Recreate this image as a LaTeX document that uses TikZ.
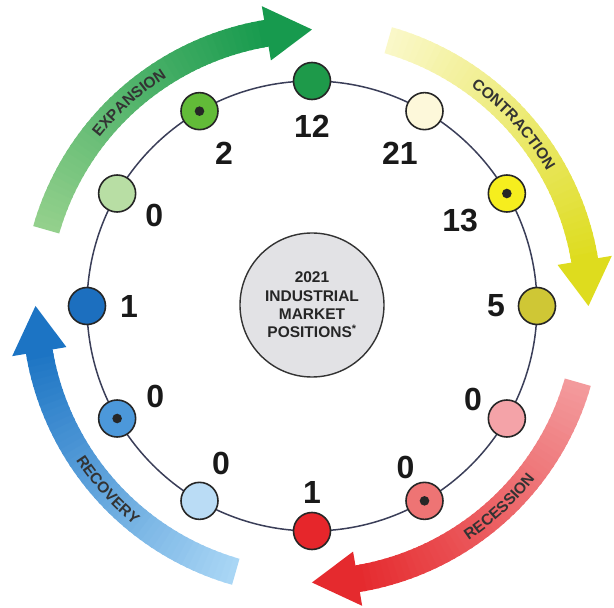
\documentclass[tikz,border=0pt]{standalone}
\usepackage{fontspec}
\setmainfont{Liberation Sans}
\usetikzlibrary{decorations.text}
\definecolor{RingLine}{RGB}{58,62,88}
\definecolor{HubGrey}{RGB}{226,226,229}
\definecolor{GreenDark}{RGB}{30,154,74}
\definecolor{GreenMid}{RGB}{98,187,56}
\definecolor{GreenPale}{RGB}{184,222,164}
\definecolor{BlueDark}{RGB}{28,111,191}
\definecolor{BlueMid}{RGB}{76,152,218}
\definecolor{BluePale}{RGB}{186,220,245}
\definecolor{RedDark}{RGB}{230,38,43}
\definecolor{RedMid}{RGB}{238,116,116}
\definecolor{RedPale}{RGB}{244,163,168}
\definecolor{YellowOlive}{RGB}{207,199,53}
\definecolor{YellowBright}{RGB}{246,238,30}
\definecolor{YellowPale}{RGB}{253,248,218}
% band colours, tail to head
\definecolor{ExpTail}{RGB}{147,208,140}
\definecolor{ExpHead}{RGB}{23,154,78}
\definecolor{ConTail}{RGB}{250,248,200}
\definecolor{ConHead}{RGB}{222,220,30}
\definecolor{RecTail}{RGB}{243,154,156}
\definecolor{RecHead}{RGB}{229,42,46}
\definecolor{RcvTail}{RGB}{169,214,245}
\definecolor{RcvHead}{RGB}{28,116,196}
\newcommand{\bandfont}{\fontsize{15.5}{15.5}\selectfont\bfseries}
% curved band with a colour ramp: tip angle, tail colour, head colour
\newcommand{\cyclearrow}[3]{%
  \foreach \k in {0,...,47}{
    \pgfmathsetmacro{\ta}{#1+74-64.5*\k/48}
    \pgfmathsetmacro{\tb}{#1+74-64.5*(\k+1)/48-0.5}
    \pgfmathtruncatemacro{\mixp}{100*\k/47}
    \fill[#3!\mixp!#2] (\ta:263) arc[start angle=\ta,end angle=\tb,radius=263]
      -- (\tb:290) arc[start angle=\tb,end angle=\ta,radius=290] -- cycle;
  }
  \fill[#3] ({#1+9.5}:249) -- (#1:276.5) -- ({#1+9.5}:304) -- cycle;
}
\tikzset{
  phase/.style={circle,draw=black!85,line width=1.6pt,minimum size=37pt,inner sep=0pt},
  count/.style={font=\fontsize{32}{32}\selectfont\bfseries,text=black!90,inner sep=0pt},
  hub/.style={circle,draw=black!80,line width=1.4pt,fill=HubGrey,minimum size=144pt,
    inner sep=0pt,align=center,font=\fontsize{15.5}{18.3}\selectfont\bfseries,text=black!85},
  ring/.style={draw=RingLine,line width=1.5pt},
  bandlabel/.style={decorate,decoration={text along path,text align=center,
    text color=black!80,text={|\bandfont|#1}}}
}

\begin{document}
\begin{tikzpicture}[x=1pt,y=1pt]
  \useasboundingbox (-312,-302) rectangle (302,306);
  % four phase bands
  \cyclearrow{90}{ExpTail}{ExpHead}
  \cyclearrow{0}{ConTail}{ConHead}
  \cyclearrow{-90}{RecTail}{RecHead}
  \cyclearrow{180}{RcvTail}{RcvHead}
  \path[bandlabel=EXPANSION] (162:271) arc[start angle=162,end angle=102,radius=271];
  \path[bandlabel=CONTRACTION] (72:271) arc[start angle=72,end angle=12,radius=271];
  \path[bandlabel=RECESSION] (-77:282) arc[start angle=-77,end angle=-17,radius=282];
  \path[bandlabel=RECOVERY] (192:282) arc[start angle=192,end angle=252,radius=282];
  % ring and positions
  \draw[ring] (0,0) circle (225);
  \node[hub] (hub) at (0,1) {2021\\INDUSTRIAL\\MARKET\\POSITIONS\textsuperscript{*}};
  \foreach \ang/\col/\num/\rad in {90/GreenDark/12/180, 60/YellowPale/21/176,
      30/YellowBright/13/171, 0/YellowOlive/5/184, 330/RedPale/0/186,
      300/RedMid/0/187, 270/RedDark/1/186, 240/BluePale/0/182,
      210/BlueMid/0/181, 180/BlueDark/1/183, 150/GreenPale/0/182,
      120/GreenMid/2/176}{
    \node[phase,fill=\col] (s\ang) at (\ang:225) {};
    \node[count] (n\ang) at (\ang:\rad) {\num};
  }
  % current positions
  \foreach \ang in {120,30,300,210}
    \fill[black!85] (s\ang) circle (4.8);
\end{tikzpicture}
\end{document}
